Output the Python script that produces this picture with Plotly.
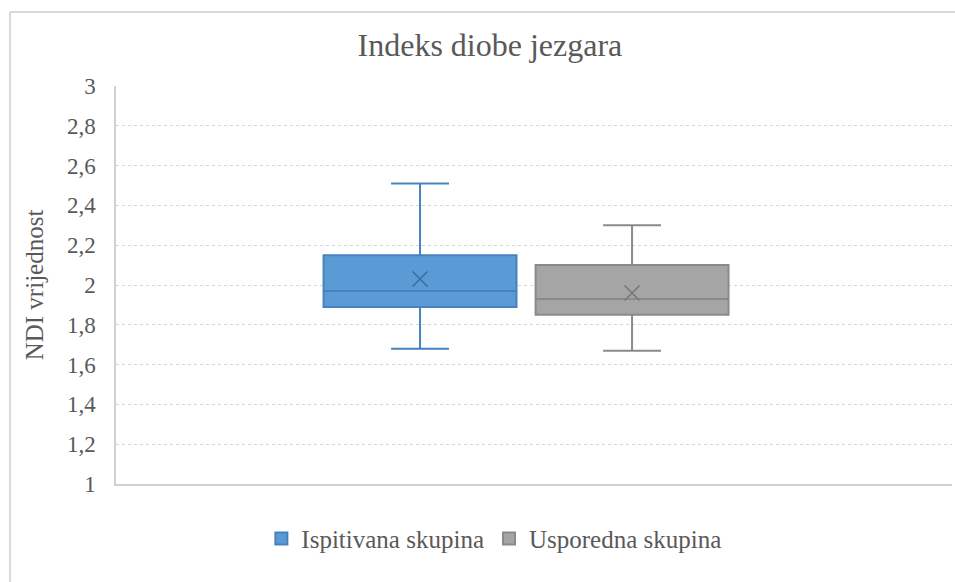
import plotly.graph_objects as go

groups = ["Ispitivana skupina", "Usporedna skupina"]
lower_whisker = [1.68, 1.67]
q1_values = [1.89, 1.85]
median_values = [1.97, 1.93]
q3_values = [2.15, 2.10]
upper_whisker = [2.51, 2.30]
mean_values = [2.03, 1.96]
y_ticks = [1, 1.2, 1.4, 1.6, 1.8, 2, 2.2, 2.4, 2.6, 2.8, 3]

fill_colors = ["#5b9bd5", "#a5a5a5"]
line_colors = ["#4682c0", "#8a8a8a"]
mean_colors = ["#3d6d9c", "#777777"]

FONT = "Liberation Serif, Times New Roman, DejaVu Serif, serif"
TXT = "#595959"

fig = go.Figure()
for i, g in enumerate(groups):
    fig.add_trace(go.Box(
        name=g,
        x=[i],
        q1=[q1_values[i]], median=[median_values[i]], q3=[q3_values[i]],
        lowerfence=[lower_whisker[i]], upperfence=[upper_whisker[i]],
        fillcolor=fill_colors[i],
        line=dict(color=line_colors[i], width=2),
        width=0.91, whiskerwidth=0.3,
        boxpoints=False,
        hoverinfo="skip",
    ))
for i, g in enumerate(groups):
    fig.add_trace(go.Scatter(
        x=[i], y=[mean_values[i]], mode="markers",
        marker=dict(symbol="x-thin", size=15,
                    line=dict(color=mean_colors[i], width=1.6)),
        showlegend=False, hoverinfo="skip",
    ))

fig.update_layout(
    width=955, height=582,
    paper_bgcolor="white", plot_bgcolor="white",
    separators=", ",
    margin=dict(l=116, r=3, t=86, b=98),
    title=dict(text="Indeks diobe jezgara", x=0.513, xanchor="center",
               y=0.923, yanchor="middle",
               font=dict(family=FONT, size=32, color=TXT)),
    font=dict(family=FONT, color=TXT),
    showlegend=True,
    legend=dict(orientation="h", x=0.452, xanchor="center", y=-0.08,
                yanchor="top", font=dict(family=FONT, size=25, color=TXT),
                itemwidth=30, tracegroupgap=0),
    xaxis=dict(range=[-1.434, 2.509], showticklabels=False, showgrid=False,
               zeroline=False, showline=True, linecolor="#d0d0d0",
               linewidth=1.5, fixedrange=True),
    yaxis=dict(range=[1, 3], tickvals=y_ticks, showgrid=True,
               gridcolor="#d6d6d6", griddash="dot", gridwidth=1.2,
               zeroline=False, showline=True, linecolor="#d0d0d0",
               linewidth=1.5, ticks="", ticklabelstandoff=14,
               tickfont=dict(family=FONT, size=23, color=TXT),
               title=dict(text="NDI vrijednost", standoff=16,
                          font=dict(family=FONT, size=25, color=TXT))),
)

# outer chart border (top and left visible in the crop)
fig.add_shape(type="line", xref="paper", yref="paper",
              x0=-106/836, x1=1.01, y0=1 + 74/398, y1=1 + 74/398,
              line=dict(color="#d9d9d9", width=2))
fig.add_shape(type="line", xref="paper", yref="paper",
              x0=-106/836, x1=-106/836, y0=1 + 74/398, y1=-98/398 - 0.01,
              line=dict(color="#d9d9d9", width=2))

fig.write_html("out.html", config={"displayModeBar": False},
               post_script="document.body.style.margin='0px';document.body.style.overflow='hidden';")
